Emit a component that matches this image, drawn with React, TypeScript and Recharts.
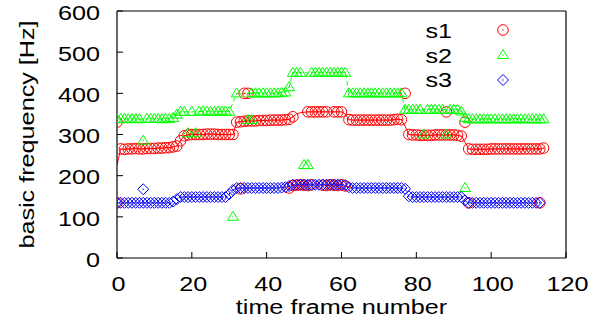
import React from 'react';
import { ComposedChart, Line, Scatter, XAxis, YAxis, Legend } from 'recharts';

const xTicks = [0, 20, 40, 60, 80, 100, 120];
const yTicks = [0, 100, 200, 300, 400, 500, 600];
const seriesNames = ['s1', 's2', 's3'];
const colors = ['#ff0000', '#00ff00', '#0000ff'];

// per-frame contour values, frames 0..114
const s1Line = [
  226, 265, 264, 265, 265, 266, 265, 265, 266, 266,
  266, 267, 267, 268, 268, 270, 272, 285, 297, 299,
  300, 300, 300, 300, 301, 301, 301, 300, 300, 300,
  300, 300, 330, 331, 332, 333, 333, 333, 334, 334,
  334, 335, 335, 335, 335, 336, 337, 343, 350, 353,
  354, 355, 355, 355, 355, 355, 355, 355, 355, 355,
  355, 350, 336, 335, 335, 335, 335, 335, 335, 335,
  335, 335, 335, 335, 336, 337, 336, 320, 300, 299,
  299, 298, 298, 298, 298, 299, 299, 299, 299, 299,
  299, 298, 296, 282, 265, 264, 264, 264, 264, 264,
  265, 265, 265, 265, 265, 265, 265, 265, 265, 265,
  265, 265, 265, 265, 267,
];
const s2Line = [
  337, 338, 338, 337, 338, 338, 337, 337, 338, 338,
  338, 338, 337, 338, 338, 340, 348, 355, 355, 355,
  355, 355, 356, 356, 356, 355, 355, 356, 356, 356,
  355, 378, 400, 400, 400, 400, 400, 400, 400, 400,
  400, 400, 400, 400, 401, 402, 415, 450, 450, 450,
  450, 450, 450, 450, 450, 450, 450, 450, 450, 450,
  450, 450, 400, 400, 400, 400, 400, 400, 400, 400,
  400, 400, 400, 400, 400, 400, 400, 360, 360, 360,
  360, 360, 360, 360, 360, 360, 360, 360, 360, 360,
  360, 360, 356, 340, 337, 337, 337, 337, 337, 337,
  337, 337, 337, 337, 337, 337, 337, 337, 337, 337,
  337, 337, 337, 337, 337,
];
const s3Line = [
  134, 134, 134, 134, 134, 134, 134, 134, 134, 134,
  134, 134, 134, 134, 134, 137, 143, 148, 148, 148,
  148, 148, 148, 148, 148, 148, 148, 148, 148, 148,
  155, 165, 170, 170, 170, 170, 170, 170, 170, 170,
  170, 170, 170, 170, 171, 172, 175, 178, 178, 178,
  178, 178, 178, 178, 178, 178, 178, 178, 178, 178,
  178, 177, 172, 170, 170, 170, 170, 170, 170, 170,
  170, 170, 170, 170, 170, 170, 170, 168, 150, 148,
  148, 148, 148, 148, 148, 148, 148, 148, 148, 148,
  148, 148, 148, 140, 134, 134, 134, 134, 134, 134,
  134, 134, 134, 134, 134, 134, 134, 134, 134, 134,
  134, 134, 134, 134, null,
];

// frames whose marker is not on the contour
const s1Missing = [0, 48, 49, 50, 57, 61, 77, 93];
const s2Missing = [7, 19, 21, 31, 33, 34, 35, 50, 51, 82, 88];
const s3Missing: number[] = [];

// extra / outlier markers [frame, value]
const s1Extra = [
  [0, 330], [0, 134], [33, 168], [34, 400], [35, 400],
  [46, 170], [47, 176], [48, 177], [49, 178], [50, 177], [51, 176], [52, 178],
  [55, 177], [56, 176], [57, 178], [58, 177], [59, 176], [60, 178], [61, 175],
  [77, 400], [88, 355], [93, 330], [94, 134], [113, 134],
];
const s2Extra = [
  [7, 285], [19, 303], [21, 303], [31, 100], [35, 335], [36, 335],
  [50, 226], [51, 226], [82, 300], [88, 300], [93, 170],
];
const s3Extra = [[7, 167]];

const FONT = 'Liberation Sans, Arial, Helvetica, sans-serif';

function toLine(vals: (number | null)[]) {
  return vals.map((v, f) => ({ f, v }));
}
function toPoints(vals: (number | null)[], missing: number[], extra: number[][]) {
  const pts: { f: number; v: number }[] = [];
  vals.forEach((v, f) => {
    if (v != null && !missing.includes(f)) pts.push({ f, v });
  });
  extra.forEach(([f, v]) => pts.push({ f, v }));
  return pts;
}

const lines = [s1Line, s2Line, s3Line].map(toLine);
const points = [
  toPoints(s1Line, s1Missing, s1Extra),
  toPoints(s2Line, s2Missing, s2Extra),
  toPoints(s3Line, s3Missing, s3Extra),
];

function Marker({ kind, cx, cy, color }: { kind: number; cx: number; cy: number; color: string }) {
  if (cx == null || cy == null) return null;
  let shape;
  if (kind === 0) {
    shape = <circle cx={cx} cy={cy} r={5.3} fill="none" stroke={color} strokeWidth={1} />;
  } else if (kind === 1) {
    const p = `${cx},${cy - 5.5} ${cx - 5.5},${cy + 3.5} ${cx + 5.5},${cy + 3.5}`;
    shape = <polygon points={p} fill="none" stroke={color} strokeWidth={1} />;
  } else {
    const p = `${cx},${cy - 5.5} ${cx + 5.5},${cy} ${cx},${cy + 5.5} ${cx - 5.5},${cy}`;
    shape = <polygon points={p} fill="none" stroke={color} strokeWidth={1} />;
  }
  return (
    <g>
      {shape}
      <circle cx={cx} cy={cy} r={0.7} fill={color} />
    </g>
  );
}

function SText({ x, y, anchor, rotate = 0, children }: any) {
  return (
    <text
      transform={`translate(${x},${y}) rotate(${rotate}) scale(1.2,1)`}
      x={0}
      y={0}
      textAnchor={anchor}
      dominantBaseline="central"
      fontFamily={FONT}
      fontSize={21}
      fill="#000"
    >
      {children}
    </text>
  );
}

const BottomTick = (props: any) => {
  const { x, y, payload } = props;
  return (
    <g>
      <line x1={x} y1={y} x2={x} y2={y - 6} stroke="#000" strokeWidth={1} />
      <SText x={x + 1.5} y={y + 26} anchor="middle">{payload.value}</SText>
    </g>
  );
};
const TopTick = (props: any) => {
  const { x, y } = props;
  return <line x1={x} y1={y} x2={x} y2={y + 6} stroke="#000" strokeWidth={1} />;
};
const LeftTick = (props: any) => {
  const { x, y, payload } = props;
  return (
    <g>
      <line x1={x} y1={y} x2={x + 6} y2={y} stroke="#000" strokeWidth={1} />
      <SText x={x - 17} y={y + 1.5} anchor="end">{payload.value}</SText>
    </g>
  );
};
const RightTick = (props: any) => {
  const { x, y } = props;
  return <line x1={x} y1={y} x2={x - 6} y2={y} stroke="#000" strokeWidth={1} />;
};

const LegendContent = () => (
  <svg width={130} height={80} style={{ overflow: 'visible' }}>
    {seriesNames.map((n, i) => (
      <g key={n}>
        <SText x={39} y={18 + i * 24.5} anchor="end">{n}</SText>
        <Marker kind={i} cx={90} cy={17 + i * 25} color={colors[i]} />
      </g>
    ))}
  </svg>
);

export default function App() {
  return (
    <div style={{ position: 'absolute', left: 0, top: 0 }}>
      <ComposedChart
        width={607}
        height={331}
        margin={{ top: 6, right: 31, bottom: 43, left: 57 }}
      >
        <XAxis
          dataKey="f"
          type="number"
          domain={[0, 120]}
          ticks={xTicks}
          allowDataOverflow
          height={30}
          tickSize={0}
          tickMargin={0}
          tickLine={false}
          axisLine={{ stroke: '#000', strokeWidth: 1.2 }}
          tick={<BottomTick />}
          interval={0}
          label={{
            content: (p: any) => {
              const vb = p.viewBox;
              return (
                <SText x={vb.x + vb.width / 2} y={vb.y + 49} anchor="middle">
                  time frame number
                </SText>
              );
            },
          }}
        />
        <XAxis
          xAxisId="t"
          orientation="top"
          type="number"
          domain={[0, 120]}
          ticks={xTicks}
          height={5}
          tickSize={0}
          tickMargin={0}
          tickLine={false}
          axisLine={{ stroke: '#000', strokeWidth: 1.2 }}
          tick={<TopTick />}
          interval={0}
        />
        <YAxis
          dataKey="v"
          type="number"
          domain={[0, 600]}
          ticks={yTicks}
          allowDataOverflow
          width={60}
          tickSize={0}
          tickMargin={0}
          tickLine={false}
          axisLine={{ stroke: '#000', strokeWidth: 1.2 }}
          tick={<LeftTick />}
          interval={0}
          label={{
            content: (p: any) => {
              const vb = p.viewBox;
              return (
                <SText x={vb.x - 30} y={vb.y + vb.height / 2} anchor="middle" rotate={-90}>
                  basic frequency [Hz]
                </SText>
              );
            },
          }}
        />
        <YAxis
          yAxisId="r"
          orientation="right"
          type="number"
          domain={[0, 600]}
          ticks={yTicks}
          width={10}
          tickSize={0}
          tickMargin={0}
          tickLine={false}
          axisLine={{ stroke: '#000', strokeWidth: 1.2 }}
          tick={<RightTick />}
          interval={0}
        />
        <Legend
          layout="horizontal"
          verticalAlign="middle"
          align="center"
          content={<LegendContent />}
          wrapperStyle={{ position: 'absolute', left: 413, top: 13, width: 130, height: 80 }}
        />
        {lines.map((d, i) => (
          <Line
            key={'l' + i}
            data={d}
            dataKey="v"
            type="linear"
            stroke={colors[i]}
            strokeWidth={1}
            strokeDasharray={i === 0 ? undefined : i === 1 ? '4 3' : '2 3'}
            dot={false}
            activeDot={false}
            legendType="none"
            isAnimationActive={false}
          />
        ))}
        {points.map((d, i) => (
          <Scatter
            key={'s' + i}
            name={seriesNames[i]}
            data={d}
            dataKey="v"
            fill={colors[i]}
            isAnimationActive={false}
            shape={(p: any) => <Marker kind={i} cx={p.cx} cy={p.cy} color={colors[i]} />}
          />
        ))}
      </ComposedChart>
    </div>
  );
}
